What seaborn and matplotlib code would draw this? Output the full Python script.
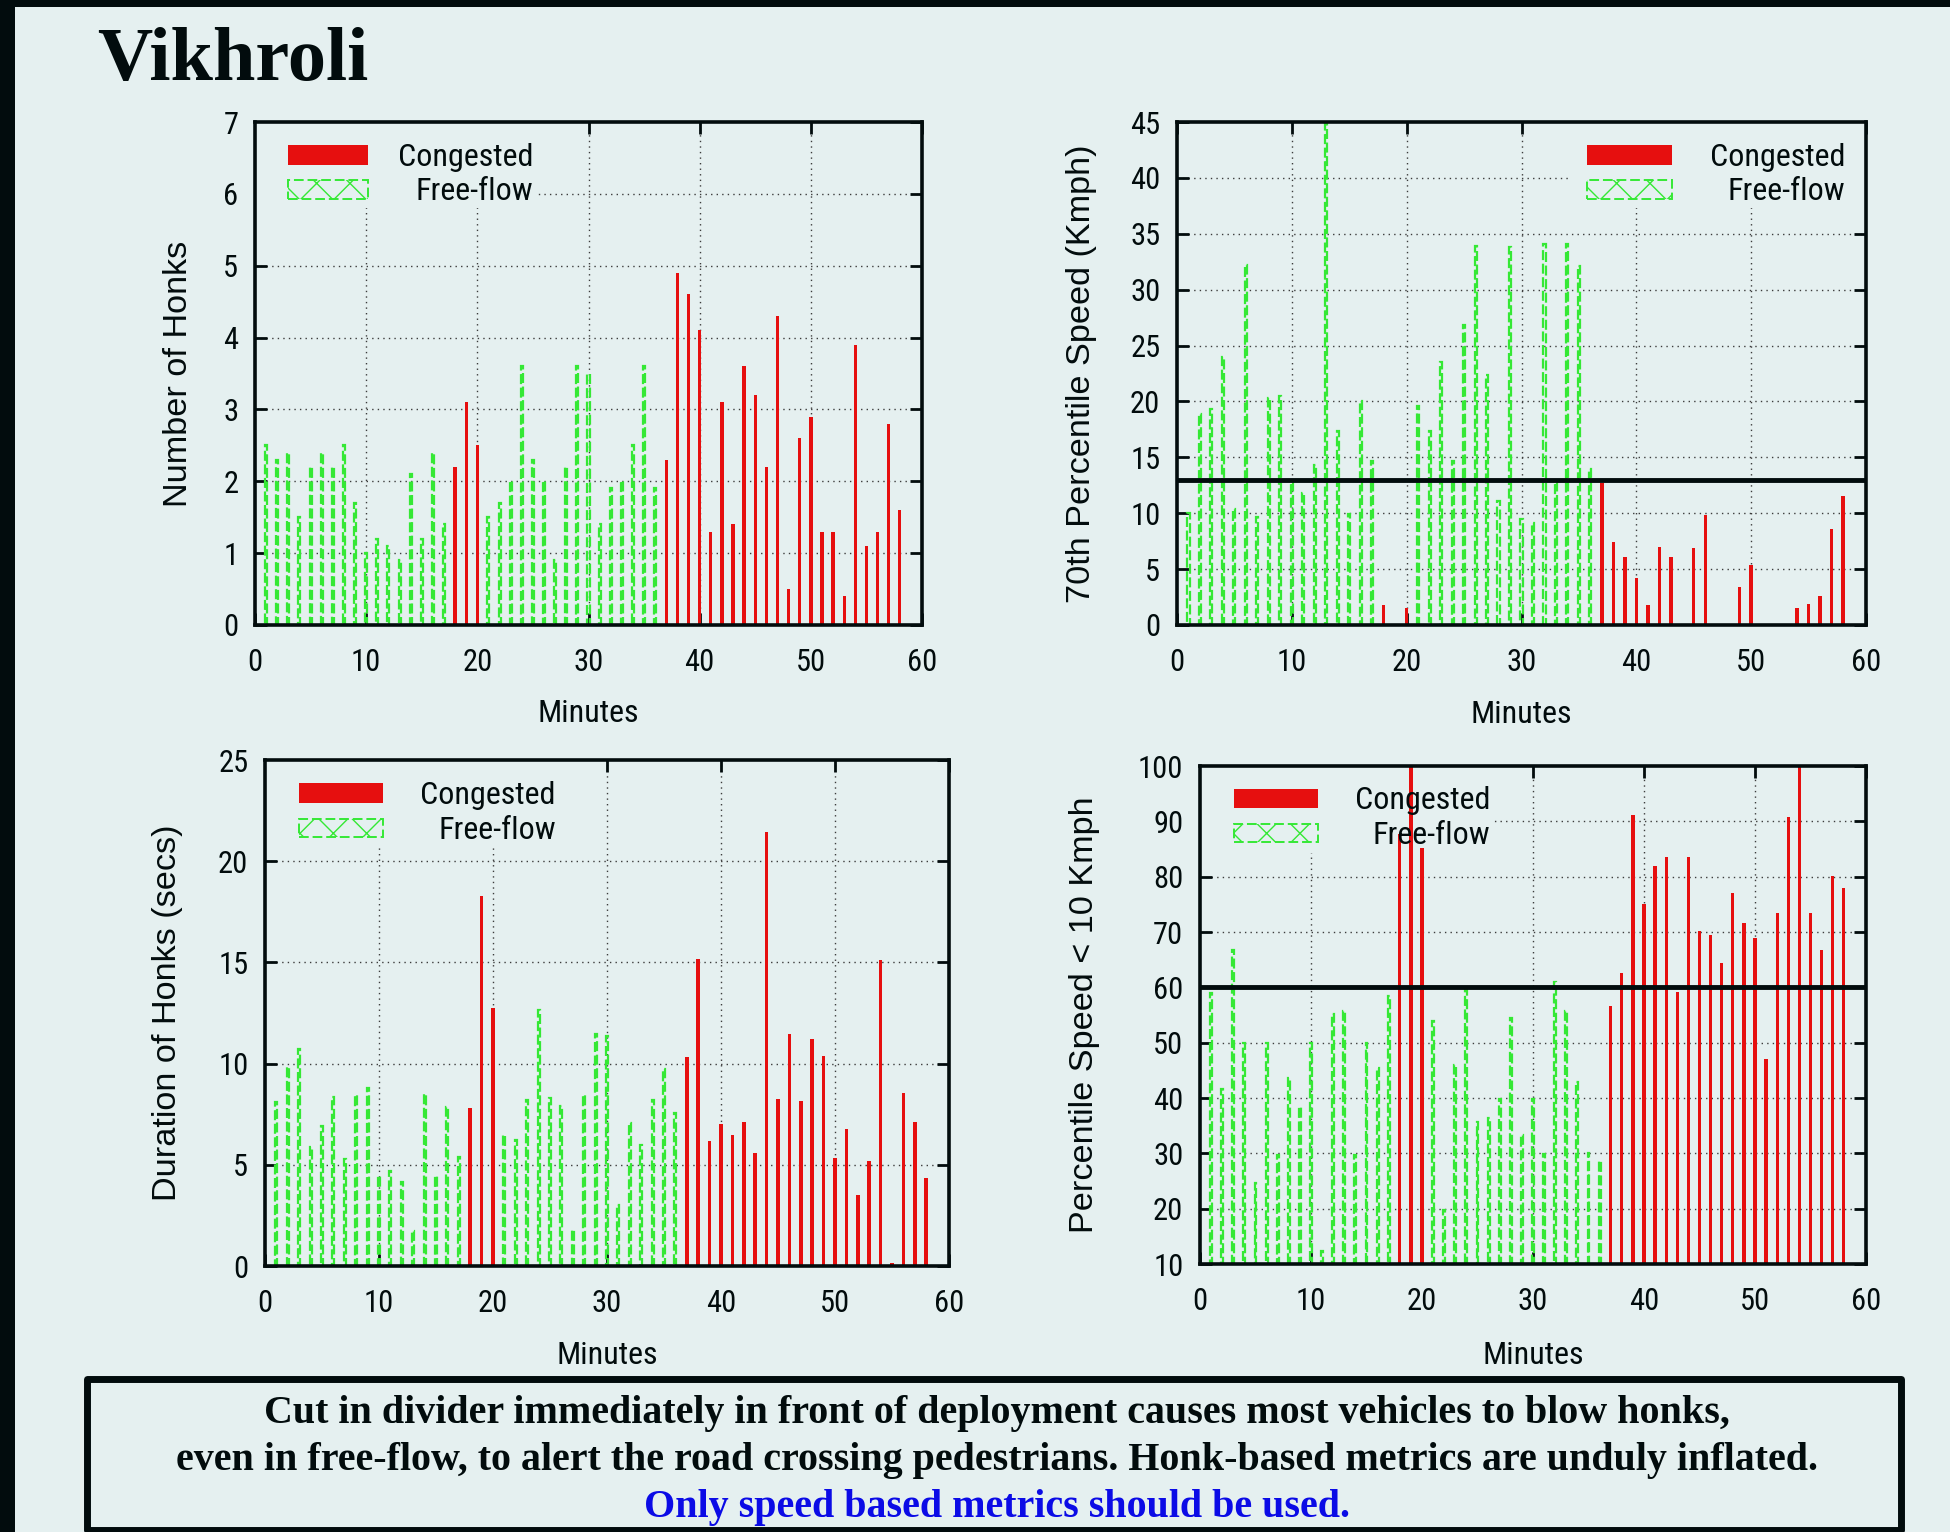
import numpy as np
import pandas as pd
import matplotlib
matplotlib.use("Agg")
import matplotlib.pyplot as plt
from matplotlib.patches import Rectangle
from matplotlib import font_manager
import seaborn as sns

# ---- per-minute measurements -------------------------------------------
MINUTES = list(range(1, 59))
CONGESTED_MINUTES = [18, 19, 20] + list(range(37, 59))

HONKS = [2.5, 2.3, 2.4, 1.5, 2.2, 2.4, 2.2, 2.5, 1.7, 1.0,
         1.2, 1.1, 0.9, 2.1, 1.2, 2.4, 1.4, 2.2, 3.1, 2.5,
         1.5, 1.7, 2.0, 3.6, 2.3, 2.0, 0.9, 2.2, 3.6, 3.5,
         1.4, 1.9, 2.0, 2.5, 3.6, 1.9, 2.3, 4.9, 4.6, 4.1,
         1.3, 3.1, 1.4, 3.6, 3.2, 2.2, 4.3, 0.5, 2.6, 2.9,
         1.3, 1.3, 0.4, 3.9, 1.1, 1.3, 2.8, 1.6]

SPEED70 = [10.0, 18.9, 19.3, 24.0, 10.4, 32.2, 9.7, 20.3, 20.5, 12.8,
           11.8, 14.3, 44.8, 17.4, 9.9, 20.0, 14.7, 1.8, 0.0, 1.5,
           19.6, 17.4, 23.5, 14.7, 26.8, 33.9, 22.4, 11.1, 33.8, 9.5,
           9.1, 34.1, 12.8, 34.1, 32.1, 14.0, 12.7, 7.4, 6.1, 4.2,
           1.8, 7.0, 6.1, 0.0, 6.9, 9.8, 0.0, 0.0, 3.4, 5.4,
           0.0, 0.0, 0.0, 1.5, 1.9, 2.6, 8.6, 11.5]

DURATION = [8.1, 9.85, 10.7, 5.9, 6.9, 8.35, 5.3, 8.45, 8.8, 4.45,
            4.7, 4.15, 1.75, 8.5, 4.45, 7.85, 5.4, 7.8, 18.3, 12.75,
            6.45, 6.25, 8.2, 12.65, 8.3, 7.9, 1.8, 8.45, 11.45, 11.35,
            3.0, 7.05, 6.0, 8.2, 9.75, 7.55, 10.35, 15.15, 6.2, 7.0,
            6.45, 7.1, 5.6, 21.45, 8.25, 11.45, 8.15, 11.2, 10.4, 5.35,
            6.75, 3.5, 5.2, 15.1, 0.15, 8.55, 7.1, 4.35]

PCT_SLOW = [58.9, 41.6, 66.8, 50.0, 24.7, 50.0, 29.7, 43.7, 38.4, 50.0,
            12.3, 55.1, 55.7, 29.7, 50.0, 45.5, 58.4, 87.7, 100.0, 85.1,
            53.9, 19.7, 45.9, 59.6, 35.7, 36.3, 39.9, 54.5, 33.3, 39.9,
            29.9, 61.0, 55.7, 42.9, 30.0, 28.7, 56.6, 62.6, 91.1, 75.1,
            81.9, 83.5, 59.2, 83.5, 70.1, 69.4, 64.4, 77.0, 71.6, 68.9,
            47.1, 73.4, 90.7, 100.0, 73.4, 66.8, 80.2, 78.0]

SPEED_THRESHOLD = 13
SLOW_SHARE_THRESHOLD = 60

STATES = ["Congested", "Free-flow"]
TITLE = "Vikhroli"
NOTE_LINES = [
    "Cut in divider immediately in front of deployment causes most vehicles to blow honks,",
    "even in free-flow, to alert the road crossing pedestrians. Honk-based metrics are unduly inflated.",
]
NOTE_EMPHASIS = "Only speed based metrics should be used."

# ---- style ---------------------------------------------------------------
RED = "#e60f0f"
GREEN = "#35e835"
BG = "#e5f0f0"
INK = "#020c0d"
GRID = "#3c3c3c"

sns.set_theme(style="white")


def pick_narrow_font():
    """Return (family, stretch) of a narrow sans face if one is installed."""
    fonts = font_manager.fontManager.ttflist
    names = {f.name for f in fonts}
    for name in ["Liberation Sans Narrow", "Arial Narrow", "Roboto Condensed",
                 "Noto Sans Condensed", "Open Sans Condensed", "DejaVu Sans Condensed"]:
        if name in names:
            return name, "normal"
    for fam in ["Noto Sans", "Roboto", "Open Sans", "DejaVu Sans"]:
        for f in fonts:
            if f.name == fam and "condensed" in str(f.stretch) and f.weight in (400, "normal", "regular"):
                return fam, "condensed"
    return None


narrow = pick_narrow_font()
if narrow is not None:
    SANS, STRETCH = narrow
    TICK_SIZE, KEY_SIZE, XLAB_SIZE = 22, 23, 23
else:
    SANS, STRETCH = "Liberation Sans", "normal"
    TICK_SIZE, KEY_SIZE, XLAB_SIZE = 21, 20.5, 21.5

plt.rcParams["font.family"] = [SANS, "DejaVu Sans"]
plt.rcParams["font.stretch"] = STRETCH
plt.rcParams["hatch.linewidth"] = 1.0
plt.rcParams["hatch.color"] = GREEN

df = pd.DataFrame({
    "minute": MINUTES,
    "honks": HONKS,
    "speed70": SPEED70,
    "duration": DURATION,
    "pct_slow": PCT_SLOW,
})
df["state"] = np.where(df["minute"].isin(CONGESTED_MINUTES), STATES[0], STATES[1])

W, H = 1950, 1532
fig = plt.figure(figsize=(W / 100, H / 100), dpi=100, facecolor=BG)


def frame(x0, y0, x1, y1):
    """Axes rectangle from pixel edges (origin top-left)."""
    return [x0 / W, 1 - y1 / H, (x1 - x0) / W, (y1 - y0) / H]


PANELS = [
    dict(rect=frame(255, 122, 922, 625), col="honks", ylim=(0, 7), ystep=1,
         ylabel="Number of Honks", ylab_x=-0.114, xlab_y=-0.176,
         key=(0.049, 0.169, 0.417), key_bg=(0.0, 0.420, 0.829), threshold=None),
    dict(rect=frame(1177, 122, 1866, 625), col="speed70", ylim=(0, 45), ystep=5,
         ylabel="70th Percentile Speed (Kmph)", ylab_x=-0.139, xlab_y=-0.177,
         key=(0.595, 0.719, 0.970), key_bg=(0.567, 1.0, 0.829), threshold=SPEED_THRESHOLD),
    dict(rect=frame(265, 760, 949, 1266), col="duration", ylim=(0, 25), ystep=5,
         ylabel="Duration of Honks (secs)", ylab_x=-0.143, xlab_y=-0.177,
         key=(0.050, 0.173, 0.425), key_bg=(0.0, 0.430, 0.826), threshold=None),
    dict(rect=frame(1200, 766, 1866, 1264), col="pct_slow", ylim=(10, 100), ystep=10,
         ylabel="Percentile Speed < 10 Kmph", ylab_x=-0.173, xlab_y=-0.184,
         key=(0.051, 0.177, 0.436), key_bg=(0.0, 0.437, 0.825), threshold=SLOW_SHARE_THRESHOLD),
]


def draw_key(ax, x0, x1, text_right, bg):
    bx0, bx1, by0 = bg
    ax.add_patch(Rectangle((bx0, by0), bx1 - bx0, 1 - by0, transform=ax.transAxes,
                           facecolor=BG, edgecolor="none", zorder=0.6))
    ax.add_patch(Rectangle((x0, 0.915), x1 - x0, 0.039, transform=ax.transAxes,
                           facecolor=RED, edgecolor="none", zorder=4))
    ax.add_patch(Rectangle((x0, 0.847), x1 - x0, 0.037, transform=ax.transAxes,
                           facecolor="none", edgecolor=GREEN, hatch="x", lw=1.4,
                           linestyle=(0, (5, 2)), zorder=4))
    ax.text(text_right, 0.913, STATES[0], transform=ax.transAxes, ha="right",
            va="baseline", fontsize=KEY_SIZE, color=INK, zorder=5)
    ax.text(text_right, 0.844, STATES[1], transform=ax.transAxes, ha="right",
            va="baseline", fontsize=KEY_SIZE, color=INK, zorder=5)


for p in PANELS:
    ax = fig.add_axes(p["rect"])
    ax.set_facecolor(BG)
    col = p["col"]
    cong = df[df["state"] == STATES[0]]
    free = df[df["state"] == STATES[1]]

    sns.barplot(data=cong, x="minute", y=col, native_scale=True, width=0.3,
                color=RED, saturation=1, errorbar=None, linewidth=0,
                zorder=2, ax=ax)
    sns.barplot(data=free, x="minute", y=col, native_scale=True, width=0.18,
                color=GREEN, saturation=1, fill=False, errorbar=None,
                linewidth=1.6, linestyle=(0, (4.5, 1.6)), zorder=2, ax=ax)

    if p["threshold"] is not None:
        ax.axhline(p["threshold"], color=INK, lw=3.5, zorder=3)

    y0, y1 = p["ylim"]
    yticks = list(range(y0, y1 + 1, p["ystep"]))
    xticks = list(range(0, 61, 10))
    for xv in xticks[1:-1]:
        ax.axvline(xv, color=GRID, lw=1.0, ls=(0, (1, 3)), zorder=0.3)
    for yv in yticks[1:-1]:
        ax.axhline(yv, color=GRID, lw=1.0, ls=(0, (1, 3)), zorder=0.3)

    draw_key(ax, *p["key"], p["key_bg"])

    ax.set_xlim(0, 60)
    ax.set_ylim(y0, y1)
    ax.set_xticks(xticks)
    ax.set_yticks(yticks)
    ax.set_xticklabels([str(v) for v in xticks])
    ax.set_yticklabels([str(v) for v in yticks])
    ax.tick_params(direction="in", length=8.6, width=2.0, color=INK,
                   labelcolor=INK, labelsize=TICK_SIZE, top=True, right=True,
                   bottom=True, left=True)
    ax.tick_params(axis="x", pad=16.5)
    ax.tick_params(axis="y", pad=12)
    for s in ax.spines.values():
        s.set_visible(True)
        s.set_color(INK)
        s.set_linewidth(2.6)
        s.set_zorder(6)

    ax.set_xlabel("Minutes", fontsize=XLAB_SIZE, color=INK)
    ax.xaxis.set_label_coords(0.5, p["xlab_y"])
    ax.xaxis.label.set_va("center")
    ax.set_ylabel(p["ylabel"], fontsize=24.7, color=INK,
                  family=["Liberation Sans", "DejaVu Sans"], fontstretch="normal")
    ax.yaxis.set_label_coords(p["ylab_x"], 0.5)
    ax.yaxis.label.set_va("center")

# ---- page decoration -----------------------------------------------------
fig.patches.append(Rectangle((0, 1 - 7 / H), 1, 7 / H, transform=fig.transFigure,
                             facecolor=INK, edgecolor="none", zorder=10))
fig.patches.append(Rectangle((0, 0), 15 / W, 1, transform=fig.transFigure,
                             facecolor=INK, edgecolor="none", zorder=10))

SERIF = ["Liberation Serif", "DejaVu Serif"]
fig.text(97 / W, 1 - 80 / H, TITLE, family=SERIF, fontweight="bold",
         fontstretch="normal", fontsize=55, color=INK, ha="left", va="baseline")

fig.patches.append(Rectangle((86.5 / W, 1 - 1529.5 / H), (1901 - 86.5) / W,
                             (1529.5 - 1379) / H, transform=fig.transFigure,
                             facecolor="none", edgecolor=INK, lw=5,
                             joinstyle="round", zorder=10))
cx = 997 / W
for line, base in zip(NOTE_LINES, [1423, 1470]):
    fig.text(cx, 1 - base / H, line, family=SERIF, fontweight="bold",
             fontstretch="normal", fontsize=28.8, color=INK, ha="center",
             va="baseline")
fig.text(cx, 1 - 1517 / H, NOTE_EMPHASIS, family=SERIF, fontweight="bold",
         fontstretch="normal", fontsize=28.8, color="#0b0be6", ha="center",
         va="baseline")

fig.savefig("out.png", dpi=100, facecolor=BG)
